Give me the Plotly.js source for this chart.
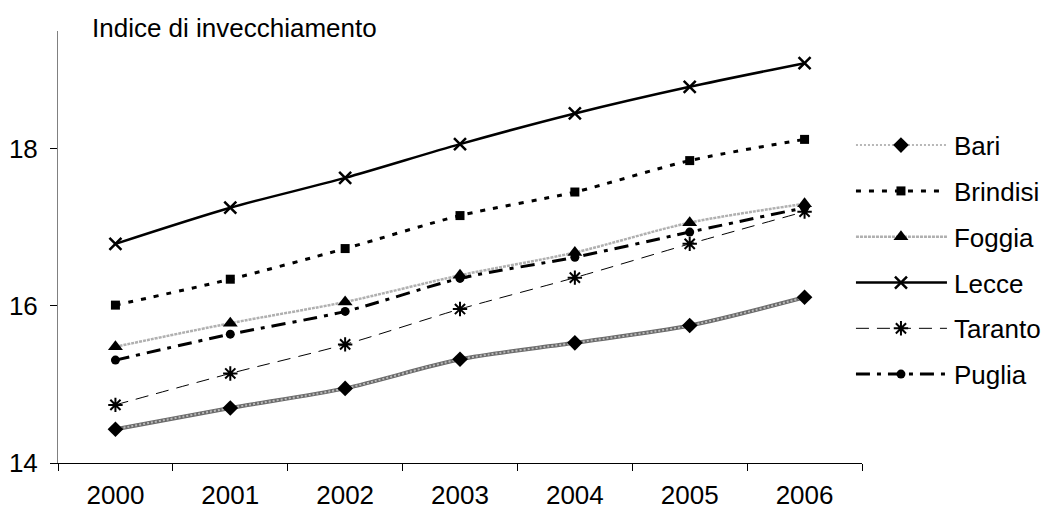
<!DOCTYPE html>
<html>
<head>
<meta charset="utf-8">
<script src="https://cdn.plot.ly/plotly-3.0.1.min.js"></script>
<style>
  html, body { margin: 0; padding: 0; background: #fff; }
  #chart { width: 1046px; height: 510px; }
</style>
</head>
<body>
<div id="chart"></div>
<script>
// Indice di invecchiamento per provincia, 2000-2006
var years = ['2000', '2001', '2002', '2003', '2004', '2005', '2006'];

var bari     = [14.43, 14.70, 14.95, 15.32, 15.53, 15.75, 16.11];
var brindisi = [16.01, 16.34, 16.73, 17.15, 17.45, 17.85, 18.12];
var foggia   = [15.48, 15.78, 16.05, 16.39, 16.68, 17.06, 17.30];
var lecce    = [16.79, 17.25, 17.63, 18.06, 18.45, 18.79, 19.09];
var taranto  = [14.74, 15.14, 15.51, 15.96, 16.36, 16.79, 17.20];
var puglia   = [15.31, 15.64, 15.93, 16.35, 16.62, 16.94, 17.25];

var FONT = 'Liberation Sans, Arial, sans-serif';
var FS = 26;

function series(name, values, line, marker, group) {
  var t = {
    type: 'scatter',
    mode: marker ? 'lines+markers' : 'lines',
    name: name,
    x: years,
    y: values,
    legendgroup: group,
    line: Object.assign({ shape: 'spline', smoothing: 0.8 }, line)
  };
  if (marker) t.marker = marker;
  return t;
}

// Bari: dark underlay + lighter textured line on top
var bariBase = series('Bari', bari, { color: '#6a6a6a', width: 4 }, null, 'g1');
bariBase.showlegend = false;
bariBase.hoverinfo = 'skip';

var traces = [
  bariBase,
  series('Bari', bari,
    { color: '#b8b8b8', width: 2, dash: '2px,2px' },
    { symbol: 'diamond', size: 12, color: '#000' }, 'g1'),
  series('Brindisi', brindisi,
    { color: '#000', width: 3, dash: '5px,8px' },
    { symbol: 'square', size: 9, color: '#000' }, 'g2'),
  series('Foggia', foggia,
    { color: '#b0b0b0', width: 2.5, dash: '3px,1px' },
    { symbol: 'triangle-up', size: 13, color: '#000' }, 'g3'),
  series('Lecce', lecce,
    { color: '#000', width: 2.5 },
    { symbol: 'x-thin-open', size: 12, color: '#000', line: { color: '#000', width: 2.5 } }, 'g4'),
  series('Taranto', taranto,
    { color: '#000', width: 1, dash: '13px,8px' },
    { symbol: 'asterisk-open', size: 12, color: '#000', line: { color: '#000', width: 2 } }, 'g5'),
  series('Puglia', puglia,
    { color: '#000', width: 3, dash: '14px,7px,4px,7px' },
    { symbol: 'circle', size: 9, color: '#000' }, 'g6')
];

var layout = {
  width: 1046,
  height: 510,
  margin: { l: 58, r: 184, t: 31, b: 47 },
  paper_bgcolor: '#fff',
  plot_bgcolor: '#fff',
  font: { family: FONT, size: FS, color: '#000' },
  showlegend: true,
  legend: {
    x: 0.99, xanchor: 'left',
    y: 0.79, yanchor: 'top',
    traceorder: 'grouped',
    tracegroupgap: 9,
    font: { family: FONT, size: FS, color: '#000' },
    bgcolor: 'rgba(0,0,0,0)'
  },
  xaxis: {
    type: 'category',
    range: [-0.5, 6.5],
    showgrid: false,
    zeroline: false,
    showline: true,
    linecolor: '#000',
    linewidth: 1,
    ticks: 'outside',
    tickson: 'boundaries',
    ticklen: 7,
    tickcolor: '#000',
    ticklabelstandoff: 9,
    tickfont: { family: FONT, size: FS, color: '#000' }
  },
  yaxis: {
    range: [14, 19.5],
    tickvals: [14, 16, 18],
    showgrid: false,
    zeroline: false,
    showline: true,
    linecolor: '#808080',
    linewidth: 1,
    ticks: 'outside',
    ticklen: 7,
    tickcolor: '#000',
    ticklabelstandoff: 7,
    tickfont: { family: FONT, size: FS, color: '#000' }
  },
  annotations: [{
    text: 'Indice di invecchiamento',
    xref: 'paper', yref: 'paper',
    x: 0.04, y: 1.0,
    xanchor: 'left', yanchor: 'bottom',
    yshift: -14,
    showarrow: false,
    font: { family: FONT, size: FS, color: '#000' }
  }]
};

var gd = document.getElementById('chart');
Plotly.newPlot(gd, traces, layout, { displayModeBar: false, staticPlot: true }).then(function () {
  // longer legend line samples, symbols centred on them, names moved past the line
  gd.querySelectorAll('.legend .scrollbox').forEach(function (s) {
    s.removeAttribute('clip-path');
  });
  gd.querySelectorAll('.legend .traces').forEach(function (item) {
    item.querySelectorAll('.legendlines path').forEach(function (p) {
      p.setAttribute('d', 'M2,0h91');
    });
    item.querySelectorAll('.legendsymbols path.scatterpts').forEach(function (p) {
      p.setAttribute('transform', 'translate(47,0)');
    });
    item.querySelectorAll('text.legendtext').forEach(function (t) {
      t.setAttribute('x', 100);
    });
  });
});
</script>
</body>
</html>
